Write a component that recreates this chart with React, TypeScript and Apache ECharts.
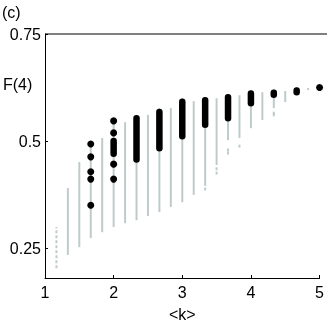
import React, { useEffect, useRef } from "react";
import * as echarts from "echarts";

// Column positions <k> and vertical ranges of F(4) (grey: all samples)
const greyK = [4 / 3, 3 / 2, 5 / 3, 11 / 6, 2, 13 / 6, 7 / 3, 5 / 2, 8 / 3, 17 / 6, 3, 19 / 6, 10 / 3, 7 / 2, 11 / 3, 23 / 6, 4, 25 / 6, 13 / 3, 9 / 2, 14 / 3, 29 / 6];
const greyLo = [0.234, 0.252, 0.273, 0.287, 0.299, 0.308, 0.315, 0.325, 0.334, 0.346, 0.357, 0.374, 0.395, 0.444, 0.502, 0.507, 0.53, 0.549, 0.577, 0.591, 0.612, 0.619];
const greyHi = [0.39, 0.451, 0.493, 0.507, 0.547, 0.544, 0.561, 0.561, 0.577, 0.577, 0.6, 0.593, 0.603, 0.6, 0.61, 0.607, 0.619, 0.614, 0.621, 0.617, 0.626, 0.624];

// Sparse (dotted) grey column at the left
const dottedK = [7 / 6];
const dottedLo = [0.203];
const dottedHi = [0.299];

// Isolated grey samples below the columns
const greyDotK = [10 / 3, 7 / 2, 7 / 2, 11 / 3, 11 / 3, 23 / 6, 13 / 3, 13 / 3];
const greyDotY = [0.388, 0.435, 0.425, 0.479, 0.472, 0.488, 0.565, 0.561];

// Dense black clusters (highlighted samples)
const blackK = [2, 7 / 3, 8 / 3, 3, 10 / 3, 11 / 3, 4, 13 / 3, 14 / 3];
const blackLo = [0.47, 0.457, 0.483, 0.511, 0.538, 0.553, 0.588, 0.608, 0.614];
const blackHi = [0.5, 0.553, 0.568, 0.592, 0.595, 0.602, 0.611, 0.613, 0.618];

// Isolated black samples
const dotK = [5 / 3, 5 / 3, 5 / 3, 5 / 3, 5 / 3, 2, 2, 2, 2, 5];
const dotY = [0.493, 0.463, 0.428, 0.411, 0.35, 0.547, 0.519, 0.446, 0.411, 0.625];

const yTicks = [0.25, 0.5, 0.75];
const xTicks = [1, 2, 3, 4, 5];

const GREY = "#bfcbcb";
const FONT = "'Liberation Sans', Arial, sans-serif";

export default function App() {
  const ref = useRef<HTMLDivElement>(null);
  useEffect(() => {
    if (!ref.current) return;
    const chart = echarts.init(ref.current, undefined, { renderer: "svg" });
    const rangeItem = (color: string, width: number, dash?: number[]) => (params: any, api: any) => {
      const p1 = api.coord([api.value(0), api.value(1)]);
      const p2 = api.coord([api.value(0), api.value(2)]);
      return {
        type: "line",
        shape: { x1: p1[0], y1: p1[1], x2: p2[0], y2: p2[1] },
        style: { stroke: color, lineWidth: width, lineCap: width > 3 ? "round" : "butt", lineDash: dash },
      };
    };
    chart.setOption({
      animation: false,
      textStyle: { fontFamily: FONT },
      grid: { left: 45, right: 7, top: 34, bottom: 49 },
      xAxis: {
        type: "value",
        min: 1,
        max: 5,
        interval: 1,
        splitLine: { show: false },
        axisLine: { lineStyle: { color: "#000", width: 1 } },
        axisTick: { inside: true, length: 3, lineStyle: { color: "#000" } },
        axisLabel: { color: "#000", fontSize: 16, margin: 6, fontFamily: FONT, customValues: xTicks },
        name: "<k>",
        nameLocation: "middle",
        nameGap: 28,
        nameTextStyle: { color: "#000", fontSize: 16, fontFamily: FONT },
      },
      yAxis: {
        type: "value",
        min: 0.18,
        max: 0.75,
        splitLine: { show: false },
        axisLine: { show: true, lineStyle: { color: "#000", width: 1 } },
        axisTick: { show: true, inside: true, length: 3, lineStyle: { color: "#000" }, customValues: yTicks },
        axisLabel: {
          color: "#000",
          fontSize: 16,
          margin: 4,
          fontFamily: FONT,
          customValues: yTicks,
          formatter: (v: number) => String(v),
        },
      },
      graphic: [
        { type: "line", shape: { x1: 45, y1: 34, x2: 327, y2: 34 }, style: { stroke: "#000", lineWidth: 1 } },
        { type: "text", left: 2, top: 4, style: { text: "(c)", fontSize: 16, fill: "#000", fontFamily: FONT } },
        { type: "text", left: 3, top: 76, style: { text: "F(4)", fontSize: 16, fill: "#000", fontFamily: FONT } },
      ],
      series: [
        {
          type: "custom",
          renderItem: rangeItem(GREY, 2),
          encode: { x: 0, y: [1, 2] },
          data: greyK.map((k, i) => [k, greyLo[i], greyHi[i]]),
          silent: true,
        },
        {
          type: "custom",
          renderItem: rangeItem(GREY, 2, [3, 2]),
          encode: { x: 0, y: [1, 2] },
          data: dottedK.map((k, i) => [k, dottedLo[i], dottedHi[i]]),
          silent: true,
        },
        {
          type: "scatter",
          symbol: "rect",
          symbolSize: [2, 3],
          itemStyle: { color: GREY, opacity: 1 },
          data: greyDotK.map((k, i) => [k, greyDotY[i]]),
          silent: true,
        },
        {
          type: "custom",
          renderItem: rangeItem("#000", 6.5),
          encode: { x: 0, y: [1, 2] },
          data: blackK.map((k, i) => [k, blackLo[i], blackHi[i]]),
          silent: true,
        },
        {
          type: "scatter",
          symbolSize: 7,
          itemStyle: { color: "#000", opacity: 1 },
          data: dotK.map((k, i) => [k, dotY[i]]),
          silent: true,
        },
      ],
    });
    return () => chart.dispose();
  }, []);
  return <div ref={ref} style={{ position: "fixed", left: 0, top: 0, width: 327, height: 327 }} />;
}
